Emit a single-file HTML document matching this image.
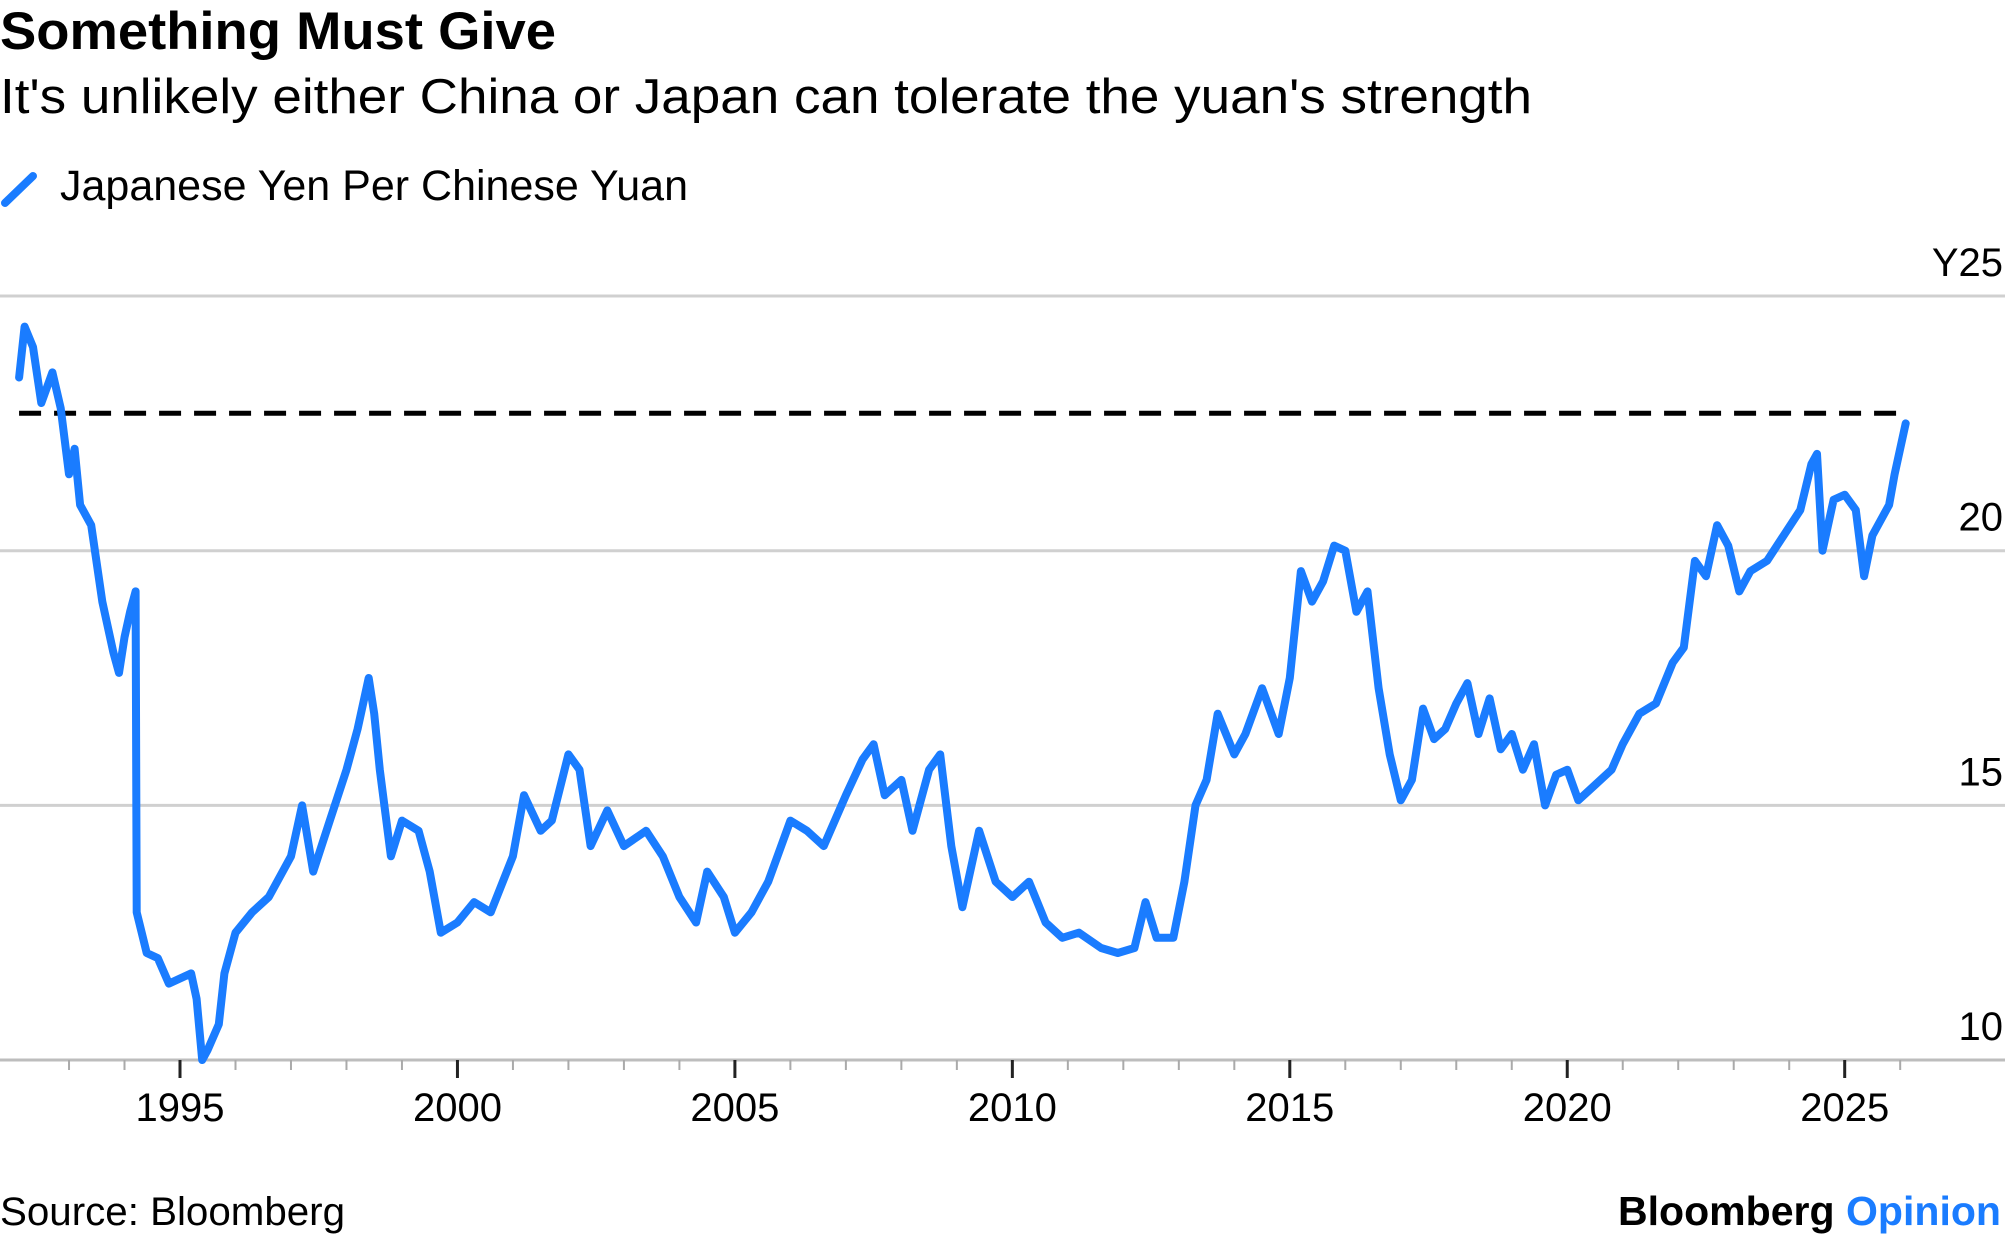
<!DOCTYPE html>
<html><head><meta charset="utf-8"><style>
html,body{margin:0;padding:0;background:#fff;}
svg{display:block;font-family:"Liberation Sans",Arial,sans-serif;}
</style></head><body>
<svg id="chart" width="2005" height="1239" viewBox="0 0 2005 1239">
<text x="0" y="49" font-size="53" font-weight="bold" fill="#000" textLength="556" lengthAdjust="spacingAndGlyphs">Something Must Give</text>
<text x="0" y="113" font-size="49" fill="#000" textLength="1532" lengthAdjust="spacingAndGlyphs">It's unlikely either China or Japan can tolerate the yuan's strength</text>
<line x1="5" y1="203" x2="33" y2="176" stroke="#1a7cff" stroke-width="8" stroke-linecap="round"/>
<text x="60" y="200" font-size="43" fill="#000" textLength="628" lengthAdjust="spacingAndGlyphs">Japanese Yen Per Chinese Yuan</text>
<g id="grid"></g><g id="xaxis"></g><g id="series"></g>
<text x="0" y="1225" font-size="40" fill="#000" textLength="345" lengthAdjust="spacingAndGlyphs">Source: Bloomberg</text>
<text x="2001" y="1225" font-size="41" font-weight="bold" text-anchor="end" textLength="383" lengthAdjust="spacingAndGlyphs"><tspan fill="#000">Bloomberg </tspan><tspan fill="#1a7cff">Opinion</tspan></text>
</svg>
<script>
const yTicks=[10,15,20,25];
const yTickLabels=["10","15","20","Y25"];
const xMajor=[1995,2000,2005,2010,2015,2020,2025];
const refLevel=22.7;
const years=[1992.1,1992.2,1992.35,1992.5,1992.7,1992.85,1993.0,1993.1,1993.2,1993.4,1993.6,1993.8,1993.9,1994.0,1994.1,1994.2,1994.22,1994.4,1994.6,1994.8,1995.0,1995.2,1995.3,1995.4,1995.5,1995.7,1995.8,1996.0,1996.3,1996.6,1997.0,1997.2,1997.4,1997.7,1998.0,1998.2,1998.4,1998.5,1998.6,1998.8,1999.0,1999.3,1999.5,1999.7,2000.0,2000.3,2000.6,2001.0,2001.2,2001.5,2001.7,2002.0,2002.2,2002.4,2002.7,2003.0,2003.4,2003.7,2004.0,2004.3,2004.5,2004.8,2005.0,2005.3,2005.6,2006.0,2006.3,2006.6,2007.0,2007.3,2007.5,2007.7,2008.0,2008.2,2008.5,2008.7,2008.9,2009.1,2009.4,2009.7,2010.0,2010.3,2010.6,2010.9,2011.2,2011.6,2011.9,2012.2,2012.4,2012.6,2012.9,2013.1,2013.3,2013.5,2013.7,2014.0,2014.2,2014.5,2014.8,2015.0,2015.2,2015.4,2015.6,2015.8,2016.0,2016.2,2016.4,2016.6,2016.8,2017.0,2017.2,2017.4,2017.6,2017.8,2018.0,2018.2,2018.4,2018.6,2018.8,2019.0,2019.2,2019.4,2019.6,2019.8,2020.0,2020.2,2020.5,2020.8,2021.0,2021.3,2021.6,2021.9,2022.1,2022.3,2022.5,2022.7,2022.9,2023.1,2023.3,2023.6,2023.9,2024.2,2024.4,2024.5,2024.6,2024.8,2025.0,2025.2,2025.35,2025.5,2025.8,2025.9,2026.1];
const values=[23.4,24.4,24.0,22.9,23.5,22.8,21.5,22.0,20.9,20.5,19.0,18.0,17.6,18.3,18.8,19.2,12.9,12.1,12.0,11.5,11.6,11.7,11.2,10.0,10.2,10.7,11.7,12.5,12.9,13.2,14.0,15.0,13.7,14.7,15.7,16.5,17.5,16.8,15.7,14.0,14.7,14.5,13.7,12.5,12.7,13.1,12.9,14.0,15.2,14.5,14.7,16.0,15.7,14.2,14.9,14.2,14.5,14.0,13.2,12.7,13.7,13.2,12.5,12.9,13.5,14.7,14.5,14.2,15.2,15.9,16.2,15.2,15.5,14.5,15.7,16.0,14.2,13.0,14.5,13.5,13.2,13.5,12.7,12.4,12.5,12.2,12.1,12.2,13.1,12.4,12.4,13.5,15.0,15.5,16.8,16.0,16.4,17.3,16.4,17.5,19.6,19.0,19.4,20.1,20.0,18.8,19.2,17.3,16.0,15.1,15.5,16.9,16.3,16.5,17.0,17.4,16.4,17.1,16.1,16.4,15.7,16.2,15.0,15.6,15.7,15.1,15.4,15.7,16.2,16.8,17.0,17.8,18.1,19.8,19.5,20.5,20.1,19.2,19.6,19.8,20.3,20.8,21.7,21.9,20.0,21.0,21.1,20.8,19.5,20.3,20.9,21.5,22.5];
const NS="http://www.w3.org/2000/svg";
function xs(yr){return 180+(yr-1995)*55.49;}
function ys(v){return 1060-(v-10)*50.93;}
function mk(tag,attrs,parent){const e=document.createElementNS(NS,tag);for(const k in attrs)e.setAttribute(k,attrs[k]);parent.appendChild(e);return e;}
const grid=document.getElementById('grid');
yTicks.forEach((t,i)=>{
  const l=mk('line',{x1:0,x2:2005,y1:ys(t),y2:ys(t),stroke:i===0?'#bdbdbd':'#d0d0d0','stroke-width':3},grid);
  
  
  const tx=mk('text',{x:2003,y:ys(t)-20,'font-size':40,'text-anchor':'end',fill:'#000'},grid);
  tx.textContent=yTickLabels[i];
  
  
});
const xa=document.getElementById('xaxis');
for(let yr=1993;yr<=2026;yr++){
  const major=xMajor.indexOf(yr)>=0;
  const l=mk('line',{x1:xs(yr),x2:xs(yr),y1:1060,y2:major?1078:1070,stroke:major?'#222':'#aaa','stroke-width':major?3:2},xa);
  
  
}
xMajor.forEach(yr=>{
  const t=mk('text',{x:xs(yr),y:1121,'font-size':40,'text-anchor':'middle',fill:'#000'},xa);
  t.textContent=String(yr);
  
  
});
const s=document.getElementById('series');
const d=years.map((yr,i)=>(i?'L':'M')+xs(yr).toFixed(1)+' '+ys(values[i]).toFixed(1)).join(' ');
const dash=mk('line',{x1:xs(years[0]),x2:xs(years[years.length-1]),y1:ys(refLevel),y2:ys(refLevel),stroke:'#000','stroke-width':5,'stroke-dasharray':'22 13'},s);


const p=mk('path',{d:d,fill:'none',stroke:'#1a7cff','stroke-width':8,'stroke-linejoin':'round','stroke-linecap':'round'},s);


</script>
</body></html>
